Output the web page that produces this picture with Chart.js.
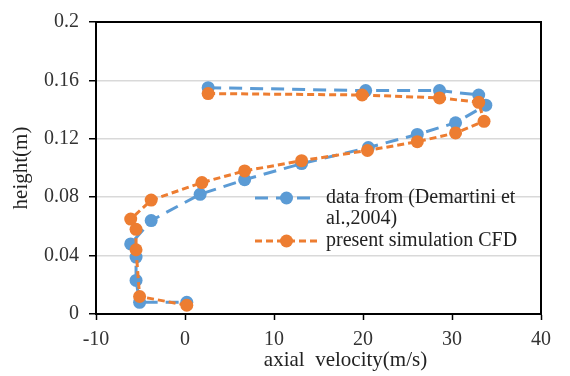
<!DOCTYPE html>
<html>
<head>
<meta charset="utf-8">
<script src="https://cdn.jsdelivr.net/npm/chart.js@4.4.1/dist/chart.umd.min.js"></script>
<style>
  html, body { margin: 0; padding: 0; background: #fff; }
  #wrap { width: 570px; height: 376px; position: relative; }
</style>
</head>
<body>
<div id="wrap"><canvas id="velocity-chart"></canvas></div>
<script>
// measured profile (Demartini et al., 2004)
const expVelocity = [2.6, 20.3, 28.6, 33.0, 33.8, 30.4, 26.1, 20.6, 13.1, 6.7, 1.7, -3.8, -6.1, -5.5, -5.5, -5.1, 0.2];
const expHeight = [0.155, 0.153, 0.153, 0.150, 0.143, 0.131, 0.123, 0.114, 0.103, 0.092, 0.082, 0.064, 0.048, 0.039, 0.023, 0.008, 0.008];

// CFD profile
const cfdVelocity = [2.6, 19.9, 28.6, 33.0, 33.6, 30.4, 26.1, 20.5, 13.1, 6.7, 1.9, -3.8, -6.1, -5.5, -5.5, -5.1, 0.2];
const cfdHeight = [0.151, 0.150, 0.148, 0.145, 0.132, 0.124, 0.118, 0.112, 0.105, 0.098, 0.090, 0.078, 0.065, 0.058, 0.044, 0.012, 0.006];

const seriesLabels = [['data from (Demartini et', 'al.,2004)'], ['present simulation CFD']];
const xTitle = 'axial  velocity(m/s)';
const yTitle = 'height(m)';

const chartColors = {
  blue: '#5B9BD5',
  orange: '#ED7D31',
};
const serif = 'Liberation Serif';

function toPoints(xs, ys) {
  return xs.map((x, i) => ({ x: x, y: ys[i] }));
}

// top and right edges of the plot box
const frame = {
  id: 'frame',
  beforeDatasetsDraw(chart) {
    const { ctx, chartArea: a } = chart;
    ctx.save();
    ctx.strokeStyle = '#000';
    ctx.lineWidth = 2;
    ctx.beginPath();
    ctx.moveTo(a.left, a.top);
    ctx.lineTo(a.right, a.top);
    ctx.lineTo(a.right, a.bottom);
    ctx.stroke();
    ctx.restore();
  }
};

// legend inside the plot (no background) + x title, which sits right of centre
const insideLegend = {
  id: 'insideLegend',
  afterDraw(chart) {
    const { ctx, chartArea: a } = chart;
    const x0 = a.left + 159, x1 = a.left + 222, xm = (x0 + x1) / 2;
    const tx = a.left + 230;
    const rows = [
      { ds: chart.data.datasets[0], y: a.top + 176, lines: seriesLabels[0] },
      { ds: chart.data.datasets[1], y: a.top + 219, lines: seriesLabels[1] }
    ];
    ctx.save();
    rows.forEach(r => {
      ctx.strokeStyle = r.ds.borderColor;
      ctx.lineWidth = r.ds.borderWidth;
      ctx.setLineDash(r.ds.borderDash);
      ctx.beginPath();
      ctx.moveTo(x0, r.y);
      ctx.lineTo(x1, r.y);
      ctx.stroke();
      ctx.setLineDash([]);
      ctx.fillStyle = r.ds.pointBackgroundColor;
      ctx.beginPath();
      ctx.arc(xm, r.y, r.ds.pointRadius, 0, Math.PI * 2);
      ctx.fill();
      ctx.fillStyle = '#222';
      ctx.font = '20px "' + serif + '"';
      ctx.textBaseline = 'middle';
      r.lines.forEach((t, i) => ctx.fillText(t, tx, r.y + i * 21));
    });

    ctx.font = '21px "' + serif + '"';
    ctx.textAlign = 'center';
    ctx.textBaseline = 'alphabetic';
    ctx.fillText(xTitle, (a.left + a.right) / 2 + 27, a.bottom + 52);
    ctx.restore();
  }
};

const ctx = document.getElementById('velocity-chart').getContext('2d');

new Chart(ctx, {
  type: 'scatter',
  data: {
    datasets: [
      {
        label: seriesLabels[0].join(' '),
        data: toPoints(expVelocity, expHeight),
        showLine: true,
        borderColor: chartColors.blue,
        backgroundColor: chartColors.blue,
        pointBackgroundColor: chartColors.blue,
        pointBorderWidth: 0,
        pointRadius: 6.5,
        borderWidth: 3,
        borderDash: [13, 8],
        order: 2
      },
      {
        label: seriesLabels[1][0],
        data: toPoints(cfdVelocity, cfdHeight),
        showLine: true,
        borderColor: chartColors.orange,
        backgroundColor: chartColors.orange,
        pointBackgroundColor: chartColors.orange,
        pointBorderWidth: 0,
        pointRadius: 6.5,
        borderWidth: 3,
        borderDash: [7, 4],
        order: 1
      }
    ]
  },
  options: {
    responsive: true,
    maintainAspectRatio: false,
    animation: false,
    layout: {
      padding: { top: 21, right: 29, left: 0, bottom: 0 }
    },
    scales: {
      x: {
        type: 'linear',
        min: -10,
        max: 40,
        afterFit: s => { s.height = 62; },
        ticks: {
          stepSize: 10,
          padding: 8,
          color: '#333',
          font: { family: serif, size: 20 }
        },
        grid: {
          drawOnChartArea: false,
          tickColor: '#000',
          tickLength: 6,
          tickWidth: 1.5
        },
        border: { color: '#000', width: 2 }
      },
      y: {
        min: 0,
        max: 0.2,
        afterFit: s => { s.width = 96; },
        ticks: {
          stepSize: 0.04,
          padding: 10,
          color: '#333',
          font: { family: serif, size: 20 },
          callback: v => String(Number(v.toFixed(2)))
        },
        grid: {
          color: '#d9d9d9',
          lineWidth: 1.5,
          tickColor: '#000',
          tickLength: 7,
          tickWidth: 1.5
        },
        border: { color: '#000', width: 2 },
        title: {
          display: true,
          text: yTitle,
          color: '#222',
          padding: { top: 9, bottom: 0 },
          font: { family: serif, size: 21 }
        }
      }
    },
    plugins: {
      legend: { display: false },
      tooltip: { enabled: false }
    }
  },
  plugins: [frame, insideLegend]
});
</script>
</body>
</html>
